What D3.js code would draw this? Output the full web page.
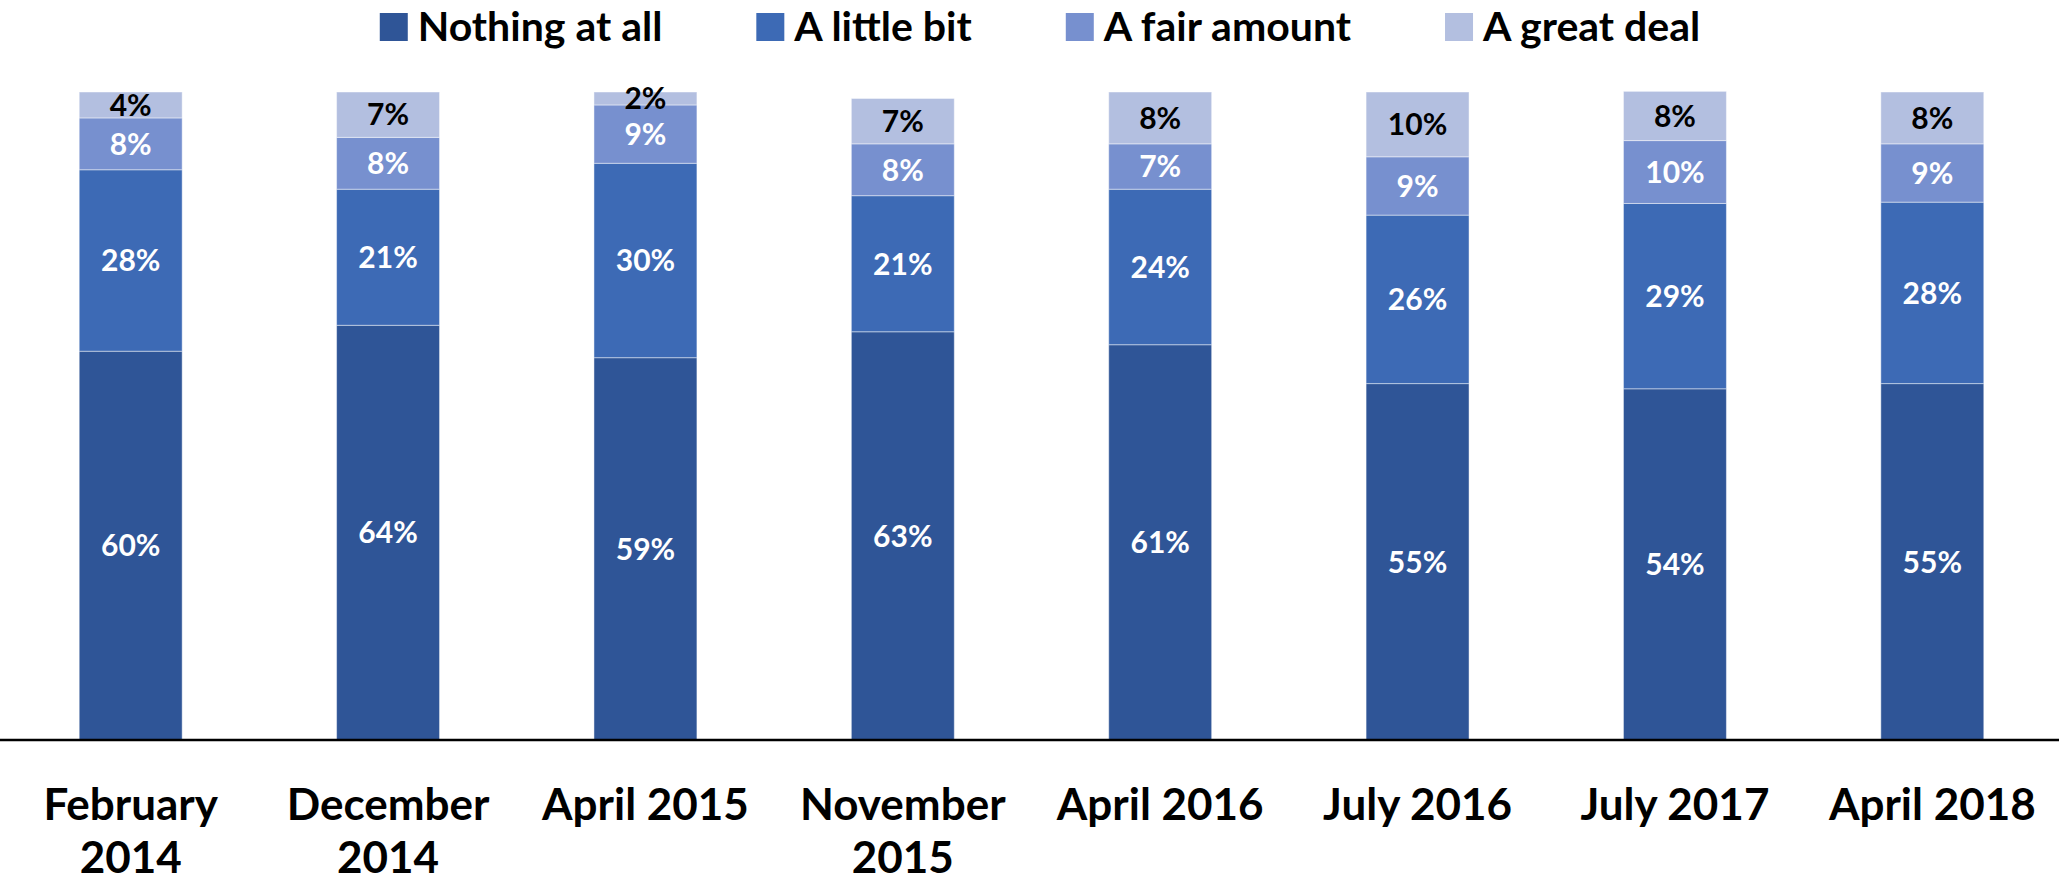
<!DOCTYPE HTML>
<html>
<head>
    <meta charset="UTF-8">
    <title>Stacked bars</title>
    <style>
        body {
            margin: 0;
            background: #fff;
        }

        svg text {
            font-family: Lato, "Open Sans", sans-serif;
            font-weight: bold;
        }
    </style>
    <script src="https://cdnjs.cloudflare.com/ajax/libs/d3/7.8.5/d3.min.js"></script>
</head>
<body>
<svg id="chart" width="2059" height="884"></svg>

<script>
    // survey waves (x axis)
    var categories = ["February 2014", "December 2014", "April 2015", "November 2015",
        "April 2016", "July 2016", "July 2017", "April 2018"];
    // how the labels break over lines
    var tickLabels = [["February", "2014"], ["December", "2014"], ["April 2015"], ["November", "2015"],
        ["April 2016"], ["July 2016"], ["July 2017"], ["April 2018"]];

    var seriesNames = ["Nothing at all", "A little bit", "A fair amount", "A great deal"];
    var nothingAtAll = [60, 64, 59, 63, 61, 55, 54.2, 55];
    var aLittleBit = [28, 21, 30, 21, 24, 26, 28.6, 28];
    var aFairAmount = [8, 8, 9, 8, 7, 9, 9.7, 9];
    var aGreatDeal = [4, 7, 2, 7, 8, 10, 7.6, 8];

    var colors = ["#2f5597", "#3d6ab5", "#7790cf", "#b3bfe0"];
    var labelColors = ["#fff", "#fff", "#fff", "#000"];

    var seriesValues = [nothingAtAll, aLittleBit, aFairAmount, aGreatDeal];
    var rows = categories.map(function (c, i) {
        var r = {cat: c};
        seriesNames.forEach(function (s, k) {
            r[s] = seriesValues[k][i];
        });
        return r;
    });

    var svg = d3.select("#chart");
    var width = 2059;

    var x = d3.scaleBand()
            .domain(categories)
            .range([2, 2061])
            .paddingInner(0.6)
            .paddingOuter(0.3);

    var y = d3.scaleLinear()
            .domain([0, 100])
            .range([740, 92]);

    var stacked = d3.stack().keys(seriesNames)(rows);

    var layers = svg.append("g").selectAll("g")
            .data(stacked)
            .enter().append("g")
            .attr("fill", function (d, i) { return colors[i]; });

    layers.selectAll("rect")
            .data(function (d) { return d; })
            .enter().append("rect")
            .attr("x", function (d) { return x(d.data.cat); })
            .attr("y", function (d) { return y(d[1]); })
            .attr("width", x.bandwidth())
            .attr("height", function (d) { return y(d[0]) - y(d[1]); })
            .attr("stroke", "#fff")
            .attr("stroke-opacity", 0.45)
            .attr("stroke-width", 1);

    // value labels
    layers.each(function (layer, k) {
        d3.select(this).selectAll("text")
                .data(layer)
                .enter().append("text")
                .attr("x", function (d) { return x(d.data.cat) + x.bandwidth() / 2; })
                .attr("y", function (d) { return (y(d[0]) + y(d[1])) / 2; })
                .attr("dy", "0.36em")
                .attr("text-anchor", "middle")
                .attr("font-size", "30px")
                .attr("fill", labelColors[k])
                .text(function (d) { return Math.round(d[1] - d[0]) + "%"; });
    });

    // x axis
    var axis = svg.append("g")
            .attr("transform", "translate(0,740)")
            .call(d3.axisBottom(x).tickSize(0).tickSizeOuter(0));

    axis.select(".domain")
            .attr("d", "M0,0H" + width)
            .attr("stroke", "#000")
            .attr("stroke-width", 2.5);

    axis.selectAll(".tick text").remove();
    axis.selectAll(".tick").append("text")
            .attr("fill", "#000")
            .attr("font-size", "44px")
            .attr("text-anchor", "middle")
            .attr("font-family", "Lato, sans-serif")
            .attr("font-weight", "bold")
            .each(function (d, i) {
                var t = d3.select(this);
                tickLabels[i].forEach(function (line, j) {
                    t.append("tspan")
                            .attr("x", 0)
                            .attr("y", 80 + j * 53)
                            .text(line);
                });
            });

    // legend
    var legend = svg.append("g");
    var gap = 94;
    var lx = 0;
    seriesNames.forEach(function (s, i) {
        var g = legend.append("g").attr("transform", "translate(" + lx + ",0)");
        g.append("rect")
                .attr("x", 0)
                .attr("y", 13)
                .attr("width", 28)
                .attr("height", 28)
                .attr("fill", colors[i]);
        var t = g.append("text")
                .attr("x", 38)
                .attr("y", 41)
                .attr("font-size", "41px")
                .attr("fill", "#000")
                .text(s);
        lx += 38 + t.node().getComputedTextLength() + gap;
    });
    var lw = lx - gap;
    legend.attr("transform", "translate(" + (1040 - lw / 2) + ",0)");
</script>
</body>
</html>
